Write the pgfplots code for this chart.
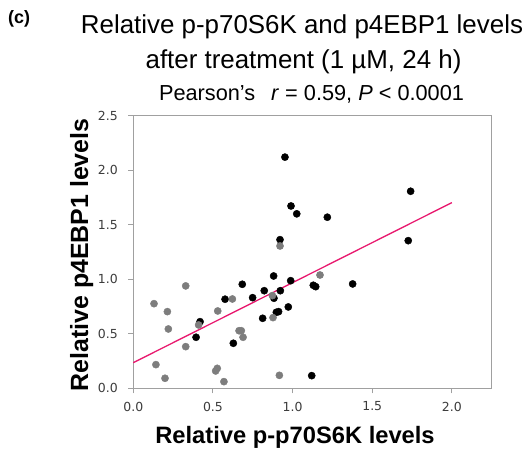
\documentclass[border=0pt]{standalone}
\usepackage{fontspec}
\setmainfont{Liberation Sans}
\newfontfamily\dejavu{DejaVu Sans}
\usepackage{pgfplots}
\pgfplotsset{compat=1.18}
\definecolor{axgray}{RGB}{160,160,160}
\definecolor{ptgray}{RGB}{125,125,125}
\definecolor{fitpink}{RGB}{232,24,110}
\definecolor{ticktext}{RGB}{60,60,60}
\begin{document}
\begin{tikzpicture}[x=1bp,y=1bp]
\useasboundingbox (0,0) rectangle (529,450);
\node[anchor=base west,font=\bfseries\fontsize{18}{18}\selectfont,inner sep=0] at (8,426) {(c)};
\node[anchor=base,font=\fontsize{26}{26}\selectfont,inner sep=0] at (302,416) {Relative p-p70S6K and p4EBP1 levels};
\node[anchor=base,font=\fontsize{26}{26}\selectfont,inner sep=0] at (303.5,381.7) {after treatment (1 µM, 24 h)};
\node[anchor=base,font=\fontsize{21.8}{22}\selectfont,inner sep=0] at (311.5,349) {Pearson’s\hspace{16bp}\textit{r} = 0.59, \textit{P} < 0.0001};
\node[anchor=base,font=\bfseries\fontsize{23.8}{24}\selectfont,inner sep=0] at (295,6.7) {Relative p-p70S6K levels};
\node[anchor=base,rotate=90,font=\bfseries\fontsize{25}{25}\selectfont,inner sep=0] at (88,195) {Relative p4EBP1 levels};
\begin{axis}[
  at={(133.3bp,61.7bp)}, anchor=south west,
  scale only axis, width=358.4bp, height=272.6bp,
  xmin=0, xmax=2.25, ymin=0, ymax=2.5,
  xtick={0,0.5,1,1.5,2}, ytick={0,0.5,1,1.5,2,2.5},
  tick align=outside, tick pos=left,
  major tick length=5bp,
  axis line style={axgray, line width=1.1bp},
  tick style={axgray, line width=1bp},
  tick label style={font=\dejavu\fontsize{12.5}{12.5}\selectfont, text=ticktext},
  xticklabel style={yshift=-5bp},
  yticklabel style={xshift=-7bp},
  /pgf/number format/assume math mode=true,
  /pgf/number format/.cd, fixed, fixed zerofill, precision=1, /tikz/.cd,
  clip=false,
]
\addplot[fitpink, line width=1.3bp] coordinates {(0,0.235) (2,1.703)};
\addplot[only marks, mark=*, mark size=3.6bp, mark options={fill=black, draw=black}] coordinates {
(0.952,2.12) (0.99,1.672) (1.026,1.60) (0.921,1.363) (1.741,1.807) (1.218,1.569)
(1.726,1.354) (0.419,0.611) (0.394,0.468) (0.576,0.817) (0.628,0.413) (0.684,0.954)
(0.749,0.831) (0.812,0.642) (0.822,0.895) (0.881,1.030) (0.883,0.826) (0.923,0.895)
(0.898,0.697) (0.912,0.703) (0.973,0.746) (0.988,0.987) (1.130,0.945) (1.145,0.932)
(1.377,0.957) (1.12,0.116)
};
\addplot[only marks, mark=*, mark size=3.6bp, mark options={fill=ptgray, draw=ptgray}] coordinates {
(0.921,1.305) (0.130,0.776) (0.329,0.939) (0.214,0.703) (0.220,0.544) (0.329,0.382)
(0.142,0.217) (0.199,0.092) (0.410,0.581) (0.530,0.709) (0.527,0.183) (0.517,0.159)
(0.569,0.061) (0.622,0.819) (0.664,0.528) (0.678,0.528) (0.689,0.468) (0.873,0.850)
(0.877,0.648) (0.917,0.119) (1.172,1.039)
};
\end{axis}
\end{tikzpicture}
\end{document}
